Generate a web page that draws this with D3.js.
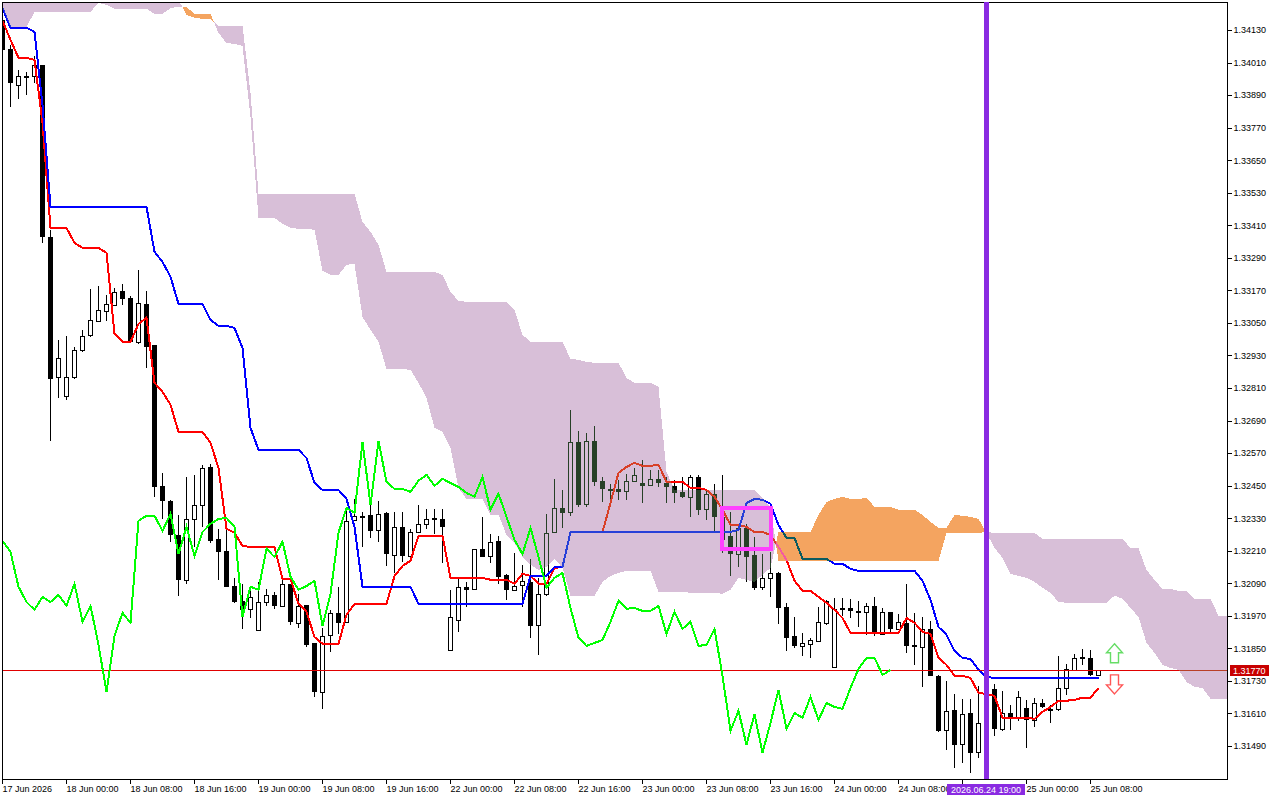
<!DOCTYPE html>
<html lang="en">
    <head>
        <meta charset="utf-8" />
        <title>GBPUSD H1 Ichimoku</title>
        <script src="https://d3js.org/d3.v7.min.js" charset="utf-8"></script>
        <style type="text/css">
            body { margin: 0; background: #fff; }
            svg { display: block; }
            text { font-family: "Liberation Sans", sans-serif; font-size: 9px; fill: #000; }
        </style>
    </head>
    <body>
        <script type="text/javascript">
            // hourly bars, index 0 = 17 Jun 16:00
            var opens = [1.34167,1.34060,1.33928,1.33961,1.33961,1.34001,1.33367,1.32851,1.32781,1.32851,1.32951,1.33006,1.33057,1.33094,1.33116,1.33168,1.33142,1.32980,1.33120,1.32969,1.32449,1.32394,1.32268,1.32103,1.32327,1.32379,1.32519,1.32254,1.32209,1.32080,1.32025,1.31996,1.31918,1.32021,1.32047,1.32007,1.32088,1.31944,1.32010,1.31870,1.31690,1.31900,1.31981,1.31948,1.32324,1.32339,1.32342,1.32287,1.32350,1.32195,1.32298,1.32191,1.32279,1.32309,1.32331,1.32327,1.31845,1.31955,1.32077,1.32069,1.32217,1.32191,1.32246,1.32121,1.32066,1.32084,1.32095,1.31937,1.32051,1.32279,1.32368,1.32353,1.32611,1.32383,1.32615,1.32468,1.32438,1.32438,1.32431,1.32468,1.32460,1.32453,1.32475,1.32460,1.32449,1.32427,1.32409,1.32482,1.32364,1.32420,1.32335,1.32265,1.32198,1.32294,1.32195,1.32077,1.32110,1.32128,1.32003,1.31896,1.31859,1.31867,1.31878,1.31944,1.31782,1.31999,1.31999,1.31988,1.31985,1.32007,1.31903,1.31985,1.31922,1.31944,1.31863,1.31856,1.31922,1.31749,1.31550,1.31623,1.31498,1.31612,1.31468,1.31575,1.31701,1.31553,1.31612,1.31597,1.31631,1.31586,1.31649,1.31627,1.31627,1.31704,1.31771,1.31819,1.31815,1.31752];
            var highs = [1.34204,1.34075,1.33983,1.33976,1.34035,1.34001,1.33393,1.32987,1.33002,1.32962,1.33024,1.33175,1.33187,1.33153,1.33179,1.33194,1.33150,1.33246,1.33168,1.32969,1.32497,1.32398,1.32342,1.32482,1.32490,1.32527,1.32530,1.32291,1.32287,1.32110,1.32088,1.32066,1.32095,1.32069,1.32058,1.32103,1.32088,1.32051,1.32010,1.31870,1.31926,1.31992,1.32077,1.32368,1.32401,1.32353,1.32379,1.32394,1.32353,1.32353,1.32353,1.32291,1.32379,1.32364,1.32364,1.32364,1.32066,1.32106,1.32095,1.32217,1.32335,1.32272,1.32265,1.32125,1.32202,1.32158,1.32180,1.32110,1.32346,1.32475,1.32434,1.32729,1.32652,1.32645,1.32670,1.32482,1.32457,1.32471,1.32493,1.32515,1.32545,1.32508,1.32508,1.32482,1.32471,1.32482,1.32490,1.32490,1.32438,1.32457,1.32490,1.32353,1.32298,1.32309,1.32261,1.32198,1.32206,1.32132,1.32018,1.31966,1.31907,1.31889,1.32003,1.32029,1.32036,1.32036,1.32032,1.32025,1.32018,1.32040,1.31999,1.31985,1.31977,1.32088,1.31981,1.31966,1.31951,1.31753,1.31730,1.31682,1.31664,1.31664,1.31712,1.31719,1.31719,1.31693,1.31642,1.31693,1.31660,1.31667,1.31664,1.31642,1.31822,1.31793,1.31830,1.31848,1.31844,1.31770];
            var lows = [1.34049,1.33846,1.33876,1.33891,1.33935,1.33345,1.32615,1.32774,1.32766,1.32844,1.32943,1.32998,1.33054,1.33057,1.33113,1.33116,1.32975,1.32973,1.32884,1.32409,1.32327,1.32243,1.32044,1.32088,1.32224,1.32298,1.32240,1.32103,1.32077,1.32018,1.31922,1.31962,1.31918,1.32007,1.31996,1.32003,1.31937,1.31926,1.31856,1.31671,1.31627,1.31837,1.31903,1.31948,1.32324,1.32224,1.32257,1.32243,1.32154,1.32128,1.32169,1.32191,1.32279,1.32291,1.32272,1.32165,1.31845,1.31911,1.32003,1.32069,1.32187,1.32165,1.32088,1.32029,1.32062,1.32003,1.31889,1.31826,1.32044,1.32276,1.32294,1.32339,1.32372,1.32372,1.32449,1.32390,1.32386,1.32398,1.32398,1.32464,1.32386,1.32449,1.32445,1.32386,1.32386,1.32405,1.32335,1.32342,1.32324,1.32279,1.32202,1.32117,1.32150,1.32095,1.32066,1.32066,1.32040,1.31940,1.31841,1.31852,1.31822,1.31815,1.31874,1.31937,1.31778,1.31970,1.31962,1.31929,1.31900,1.31896,1.31900,1.31903,1.31922,1.31833,1.31789,1.31708,1.31749,1.31542,1.31476,1.31409,1.31428,1.31391,1.31446,1.31568,1.31527,1.31546,1.31550,1.31583,1.31483,1.31561,1.31631,1.31575,1.31620,1.31679,1.31767,1.31789,1.31749,1.31752];
            var closes = [1.34057,1.33935,1.33961,1.33961,1.34001,1.33367,1.32844,1.32921,1.32851,1.32951,1.33002,1.33061,1.33098,1.33120,1.33164,1.33139,1.32980,1.33124,1.32962,1.32445,1.32394,1.32268,1.32103,1.32327,1.32379,1.32515,1.32246,1.32206,1.32077,1.32021,1.31992,1.32040,1.32021,1.32047,1.32007,1.32088,1.31948,1.32007,1.31863,1.31690,1.31896,1.31981,1.31944,1.32320,1.32339,1.32339,1.32283,1.32346,1.32198,1.32298,1.32191,1.32279,1.32309,1.32327,1.32331,1.32298,1.31966,1.32077,1.32066,1.32217,1.32187,1.32243,1.32114,1.32066,1.32080,1.32099,1.31933,1.32051,1.32276,1.32368,1.32350,1.32611,1.32379,1.32615,1.32464,1.32438,1.32438,1.32427,1.32468,1.32490,1.32449,1.32475,1.32460,1.32445,1.32423,1.32409,1.32482,1.32361,1.32420,1.32335,1.32250,1.32198,1.32294,1.32187,1.32073,1.32110,1.32128,1.31999,1.31889,1.31859,1.31870,1.31881,1.31948,1.32025,1.31996,1.31999,1.31988,1.31988,1.32007,1.31903,1.31985,1.31922,1.31948,1.31859,1.31863,1.31922,1.31749,1.31546,1.31620,1.31494,1.31608,1.31465,1.31575,1.31697,1.31553,1.31612,1.31594,1.31671,1.31586,1.31649,1.31634,1.31627,1.31704,1.31774,1.31815,1.31815,1.31752,1.31770];
            var tenkan = [1.34164,1.34094,1.34027,1.34027,1.34020,1.33788,1.33400,1.33400,1.33400,1.33345,1.33327,1.33327,1.33327,1.33308,1.33010,1.32980,1.32980,1.33046,1.33069,1.32829,1.32796,1.32748,1.32648,1.32648,1.32648,1.32648,1.32608,1.32515,1.32291,1.32276,1.32228,1.32224,1.32224,1.32224,1.32224,1.32106,1.32106,1.32014,1.31985,1.31892,1.31867,1.31867,1.31867,1.31974,1.32014,1.32014,1.32014,1.32014,1.32014,1.32117,1.32154,1.32173,1.32265,1.32265,1.32265,1.32265,1.32110,1.32110,1.32110,1.32110,1.32110,1.32103,1.32103,1.32103,1.32088,1.32125,1.32117,1.32088,1.32088,1.32147,1.32150,1.32279,1.32279,1.32279,1.32279,1.32279,1.32386,1.32497,1.32519,1.32534,1.32523,1.32523,1.32527,1.32464,1.32464,1.32464,1.32442,1.32442,1.32434,1.32409,1.32361,1.32305,1.32305,1.32298,1.32279,1.32279,1.32268,1.32224,1.32176,1.32099,1.32062,1.32062,1.32040,1.32018,1.31992,1.31962,1.31907,1.31907,1.31907,1.31907,1.31907,1.31907,1.31907,1.31962,1.31944,1.31911,1.31903,1.31815,1.31789,1.31749,1.31749,1.31741,1.31686,1.31682,1.31675,1.31594,1.31594,1.31594,1.31594,1.31590,1.31616,1.31634,1.31657,1.31657,1.31660,1.31668,1.31668,1.31704];
            var kijun = [1.34211,1.34138,1.34138,1.34138,1.34123,1.33854,1.33478,1.33478,1.33478,1.33478,1.33478,1.33478,1.33478,1.33478,1.33478,1.33478,1.33478,1.33478,1.33478,1.33312,1.33275,1.33220,1.33120,1.33120,1.33120,1.33120,1.33061,1.33039,1.33039,1.33032,1.32958,1.32663,1.32582,1.32582,1.32582,1.32582,1.32582,1.32582,1.32552,1.32460,1.32434,1.32434,1.32434,1.32401,1.32298,1.32077,1.32077,1.32077,1.32077,1.32077,1.32077,1.32077,1.32014,1.32014,1.32014,1.32014,1.32014,1.32014,1.32014,1.32014,1.32014,1.32014,1.32014,1.32014,1.32014,1.32014,1.32117,1.32117,1.32117,1.32150,1.32150,1.32279,1.32279,1.32279,1.32279,1.32279,1.32279,1.32279,1.32279,1.32279,1.32279,1.32279,1.32279,1.32279,1.32279,1.32279,1.32279,1.32279,1.32279,1.32279,1.32279,1.32279,1.32287,1.32386,1.32401,1.32398,1.32383,1.32305,1.32257,1.32257,1.32180,1.32180,1.32180,1.32180,1.32162,1.32162,1.32143,1.32136,1.32136,1.32136,1.32136,1.32136,1.32136,1.32136,1.32136,1.32099,1.32029,1.31929,1.31900,1.31841,1.31815,1.31811,1.31771,1.31745,1.31741,1.31741,1.31741,1.31741,1.31741,1.31741,1.31741,1.31741,1.31741,1.31741,1.31741,1.31741,1.31741,1.31741];
            // cloud runs 26 bars past the last candle, cut by the chart edge
            var spanA = [1.34211,1.34141,1.34141,1.34141,1.34197,1.34197,1.34197,1.34197,1.34197,1.34197,1.34197,1.34197,1.34230,1.34223,1.34208,1.34208,1.34208,1.34208,1.34208,1.34189,1.34189,1.34211,1.34215,1.34215,1.34189,1.34189,1.34189,1.34119,1.34082,1.34079,1.34071,1.33810,1.33437,1.33437,1.33437,1.33415,1.33400,1.33397,1.33397,1.33393,1.33242,1.33227,1.33227,1.33264,1.33268,1.33072,1.33024,1.32980,1.32880,1.32880,1.32880,1.32877,1.32829,1.32774,1.32663,1.32648,1.32589,1.32442,1.32401,1.32401,1.32401,1.32342,1.32342,1.32268,1.32239,1.32187,1.32158,1.32139,1.32150,1.32180,1.32147,1.32044,1.32044,1.32044,1.32044,1.32095,1.32117,1.32128,1.32136,1.32136,1.32136,1.32136,1.32058,1.32058,1.32058,1.32058,1.32055,1.32055,1.32055,1.32055,1.32051,1.32066,1.32110,1.32103,1.32095,1.32121,1.32147,1.32279,1.32279,1.32279,1.32279,1.32279,1.32342,1.32390,1.32401,1.32409,1.32401,1.32401,1.32405,1.32372,1.32372,1.32372,1.32361,1.32361,1.32361,1.32342,1.32316,1.32294,1.32294,1.32342,1.32339,1.32335,1.32327,1.32276,1.32220,1.32184,1.32125,1.32117,1.32110,1.32095,1.32073,1.32055,1.32021,1.32018,1.32018,1.32018,1.32018,1.32018,1.32018,1.32044,1.32033,1.31999,1.31966,1.31870,1.31833,1.31789,1.31778,1.31771,1.31726,1.31708,1.31704,1.31664,1.31664,1.31664,1.31664];
            var spanB = [1.34352,1.34352,1.34352,1.34352,1.34352,1.34352,1.34352,1.34352,1.34352,1.34352,1.34352,1.34352,1.34352,1.34352,1.34352,1.34352,1.34352,1.34352,1.34352,1.34352,1.34352,1.34278,1.34241,1.34186,1.34175,1.34171,1.34171,1.34145,1.34145,1.34145,1.34145,1.33898,1.33526,1.33526,1.33526,1.33526,1.33526,1.33526,1.33526,1.33526,1.33526,1.33526,1.33526,1.33526,1.33526,1.33422,1.33386,1.33338,1.33238,1.33238,1.33238,1.33238,1.33238,1.33238,1.33238,1.33227,1.33164,1.33131,1.33128,1.33128,1.33128,1.33128,1.33128,1.33128,1.33098,1.33006,1.32980,1.32980,1.32980,1.32980,1.32980,1.32917,1.32914,1.32906,1.32903,1.32903,1.32903,1.32903,1.32847,1.32829,1.32829,1.32829,1.32814,1.32501,1.32434,1.32434,1.32434,1.32434,1.32434,1.32434,1.32434,1.32434,1.32434,1.32434,1.32434,1.32405,1.32368,1.32173,1.32173,1.32173,1.32173,1.32173,1.32173,1.32173,1.32173,1.32173,1.32173,1.32173,1.32173,1.32173,1.32173,1.32173,1.32173,1.32173,1.32173,1.32173,1.32173,1.32173,1.32276,1.32276,1.32276,1.32276,1.32276,1.32279,1.32276,1.32276,1.32276,1.32276,1.32276,1.32276,1.32254,1.32254,1.32254,1.32254,1.32254,1.32254,1.32254,1.32254,1.32254,1.32254,1.32254,1.32220,1.32220,1.32139,1.32103,1.32069,1.32069,1.32062,1.32062,1.32033,1.32033,1.32033,1.31970,1.31970,1.31970];
            var chikou = closes.slice(26); // close shifted back 26 bars

            var priceTicks = [1.34130,1.34010,1.33890,1.33770,1.33650,1.33530,1.33410,1.33290,1.33170,1.33050,1.32930,1.32810,1.32690,1.32570,1.32450,1.32330,1.32210,1.32090,1.31970,1.31850,1.31730,1.31610,1.31490];
            var timeTicks = [0,8,16,24,32,40,48,56,64,72,80,88,96,104,112,120,128,136];
            // the 24 Jun 16:00 label sits under the marker label, only its tick shows
            var timeLabels = ["17 Jun 2026","18 Jun 00:00","18 Jun 08:00","18 Jun 16:00","19 Jun 00:00","19 Jun 08:00","19 Jun 16:00","22 Jun 00:00","22 Jun 08:00","22 Jun 16:00","23 Jun 00:00","23 Jun 08:00","23 Jun 16:00","24 Jun 00:00","24 Jun 08:00","","25 Jun 00:00","25 Jun 08:00"];
            var bid = 1.31770;
            var markerBar = 123, markerLabel = "2026.06.24 19:00";
            var box = { from: 90, to: 96, upper: 1.32368, lower: 1.32217 };
            var arrowBar = 139, arrowUpPrice = 1.31830, arrowDownPrice = 1.31719;

            var plotLeft = 2, plotRight = 1227, plotTop = 2, plotBottom = 779;

            var x = d3.scaleLinear().domain([0, 1]).range([2, 10]);
            var y = d3.scaleLinear().domain([1.34130, 1.31490]).range([30, 746]);
            var px = function (i) { return x(i) + 0.5; };
            var py = function (p) { return Math.round(y(p)); };

            var svg = d3.select("body").append("svg").attr("width", 1280).attr("height", 800);
            svg.append("rect").attr("width", 1280).attr("height", 800).attr("fill", "#fff");

            svg.append("clipPath").attr("id", "plot-clip").append("rect")
                .attr("x", plotLeft).attr("y", plotTop).attr("width", plotRight - plotLeft).attr("height", plotBottom - plotTop);

            // all in one clipped group: the cloud has to blend with what is under it
            var plot = svg.append("g").attr("clip-path", "url(#plot-clip)");
            plot.append("rect").attr("x", plotLeft).attr("y", plotTop).attr("width", plotRight - plotLeft).attr("height", plotBottom - plotTop).attr("fill", "#fff");

            var bars = closes.map(function (c, i) {
                return { i: i, o: opens[i], h: highs[i], l: lows[i], c: c };
            });

            var candles = plot.append("g").attr("shape-rendering", "crispEdges");
            candles.selectAll("line").data(bars).enter().append("line")
                .attr("x1", function (d) { return px(d.i); })
                .attr("x2", function (d) { return px(d.i); })
                .attr("y1", function (d) { return py(d.h); })
                .attr("y2", function (d) { return py(d.l); })
                .attr("stroke", "#000");
            candles.selectAll("rect").data(bars).enter().append("rect")
                .attr("x", function (d) { return d.c < d.o ? x(d.i) - 2 : px(d.i) - 2; })
                .attr("y", function (d) {
                    var t = py(Math.max(d.o, d.c));
                    return d.c < d.o ? t : t + 0.5;
                })
                .attr("width", function (d) { return d.c < d.o ? 5 : 4; })
                .attr("height", function (d) {
                    var h = py(Math.min(d.o, d.c)) - py(Math.max(d.o, d.c));
                    return d.c < d.o ? Math.max(h, 2) : Math.max(h, 1);
                })
                .attr("fill", function (d) { return d.c < d.o ? "#000" : "#fff"; })
                .attr("stroke", function (d) { return d.c < d.o ? "none" : "#000"; });

            var lineOf = d3.line().x(function (d, i) { return px(i); }).y(function (d) { return y(d); });
            var drawLine = function (values, color) {
                plot.append("path").attr("d", lineOf(values)).attr("fill", "none")
                    .attr("stroke", color).attr("stroke-width", 2).attr("shape-rendering", "crispEdges");
            };
            drawLine(tenkan, "#ff0000");
            drawLine(kijun, "#0000ff");

            plot.append("line").attr("x1", plotLeft).attr("x2", plotRight)
                .attr("y1", py(bid) + 0.5).attr("y2", py(bid) + 0.5)
                .attr("stroke", "#e00000").attr("shape-rendering", "crispEdges");

            // add a point where the spans cross so both fills end at the same spot
            var cloud = [];
            spanA.forEach(function (a, i) {
                var b = spanB[i];
                if (i > 0) {
                    var d0 = spanA[i - 1] - spanB[i - 1], d1 = a - b;
                    if (d0 * d1 < 0) {
                        var t = d0 / (d0 - d1);
                        var p = spanA[i - 1] + t * (a - spanA[i - 1]);
                        cloud.push({ i: i - 1 + t, a: p, b: p });
                    }
                }
                cloud.push({ i: i, a: a, b: b });
            });
            var cloudArea = function (span) {
                return d3.area()
                    .x(function (d) { return px(d.i); })
                    .y0(function (d) { return y(Math.min(d.a, d.b)); })
                    .y1(function (d) { return y(d[span]); });
            };
            // difference with the inverted colour gives thistle / sandybrown on white
            // and the dark green candles, orange-red tenkan seen through the cloud
            plot.append("path").attr("d", cloudArea("b")(cloud)).attr("fill", "#274027")
                .attr("shape-rendering", "crispEdges").style("mix-blend-mode", "difference");
            plot.append("path").attr("d", cloudArea("a")(cloud)).attr("fill", "#0b5b9f")
                .attr("shape-rendering", "crispEdges").style("mix-blend-mode", "difference");

            drawLine(chikou, "#00ff00");

            plot.append("rect")
                .attr("x", x(box.from)).attr("y", y(box.upper))
                .attr("width", x(box.to) - x(box.from) + 1).attr("height", y(box.lower) - y(box.upper))
                .attr("fill", "none").attr("stroke", "#ff40ff").attr("stroke-width", 4)
                .attr("shape-rendering", "crispEdges");

            // arrows, outline only
            var arrowShape = [[0, -10], [8, -1], [4, -1], [4, 9], [-4, 9], [-4, -1], [-8, -1]];
            var arrowPath = d3.line().curve(d3.curveLinearClosed);
            svg.append("path").attr("d", arrowPath(arrowShape))
                .attr("transform", "translate(" + px(arrowBar) + "," + y(arrowUpPrice) + ")")
                .attr("fill", "#fff").attr("stroke", "#66dd66").attr("stroke-width", 1.4);
            svg.append("path").attr("d", arrowPath(arrowShape))
                .attr("transform", "translate(" + px(arrowBar) + "," + y(arrowDownPrice) + ") scale(1,-1)")
                .attr("fill", "#fff").attr("stroke", "#ff5555").attr("stroke-width", 1.4);

            // axes
            var yAxis = d3.axisRight(y).tickValues(priceTicks).tickSize(4).tickPadding(2)
                .tickFormat(function (d) { return d.toFixed(5); });
            var yG = svg.append("g").attr("transform", "translate(" + (plotRight + 0.5) + ",0)").call(yAxis);
            yG.select(".domain").remove();

            var xAxis = d3.axisBottom(x).tickValues(timeTicks).tickSize(4).tickPadding(2)
                .tickFormat(function (d, i) { return timeLabels[i]; });
            var xG = svg.append("g").attr("transform", "translate(0," + (plotBottom + 0.5) + ")").call(xAxis);
            xG.select(".domain").remove();
            xG.selectAll("text").attr("text-anchor", "start");
            svg.selectAll(".tick line").attr("shape-rendering", "crispEdges");
            [yG, xG].forEach(function (g) { g.attr("font-family", null).attr("font-size", null); });

            // chart frame
            svg.append("rect").attr("x", plotLeft + 0.5).attr("y", plotTop + 0.5)
                .attr("width", plotRight - plotLeft).attr("height", plotBottom - plotTop)
                .attr("fill", "none").attr("stroke", "#000").attr("shape-rendering", "crispEdges");

            // bid label
            svg.append("rect").attr("x", plotRight + 3).attr("y", py(bid) - 5)
                .attr("width", 39).attr("height", 11).attr("fill", "#c80000");
            svg.append("text").attr("x", plotRight + 6).attr("y", py(bid) + 4)
                .style("fill", "#fff").text(bid.toFixed(5));

            // vertical time marker and its label
            svg.append("line").attr("x1", px(markerBar)).attr("x2", px(markerBar))
                .attr("y1", plotTop).attr("y2", plotBottom)
                .attr("stroke", "#8a2be2").attr("stroke-width", 5).attr("shape-rendering", "crispEdges");
            svg.append("rect").attr("x", x(markerBar) - 39).attr("y", plotBottom + 5)
                .attr("width", 78).attr("height", 11).attr("fill", "#8a2be2");
            svg.append("text").attr("x", x(markerBar)).attr("y", plotBottom + 14)
                .attr("text-anchor", "middle").style("fill", "#fff").text(markerLabel);
        </script>
    </body>
</html>
